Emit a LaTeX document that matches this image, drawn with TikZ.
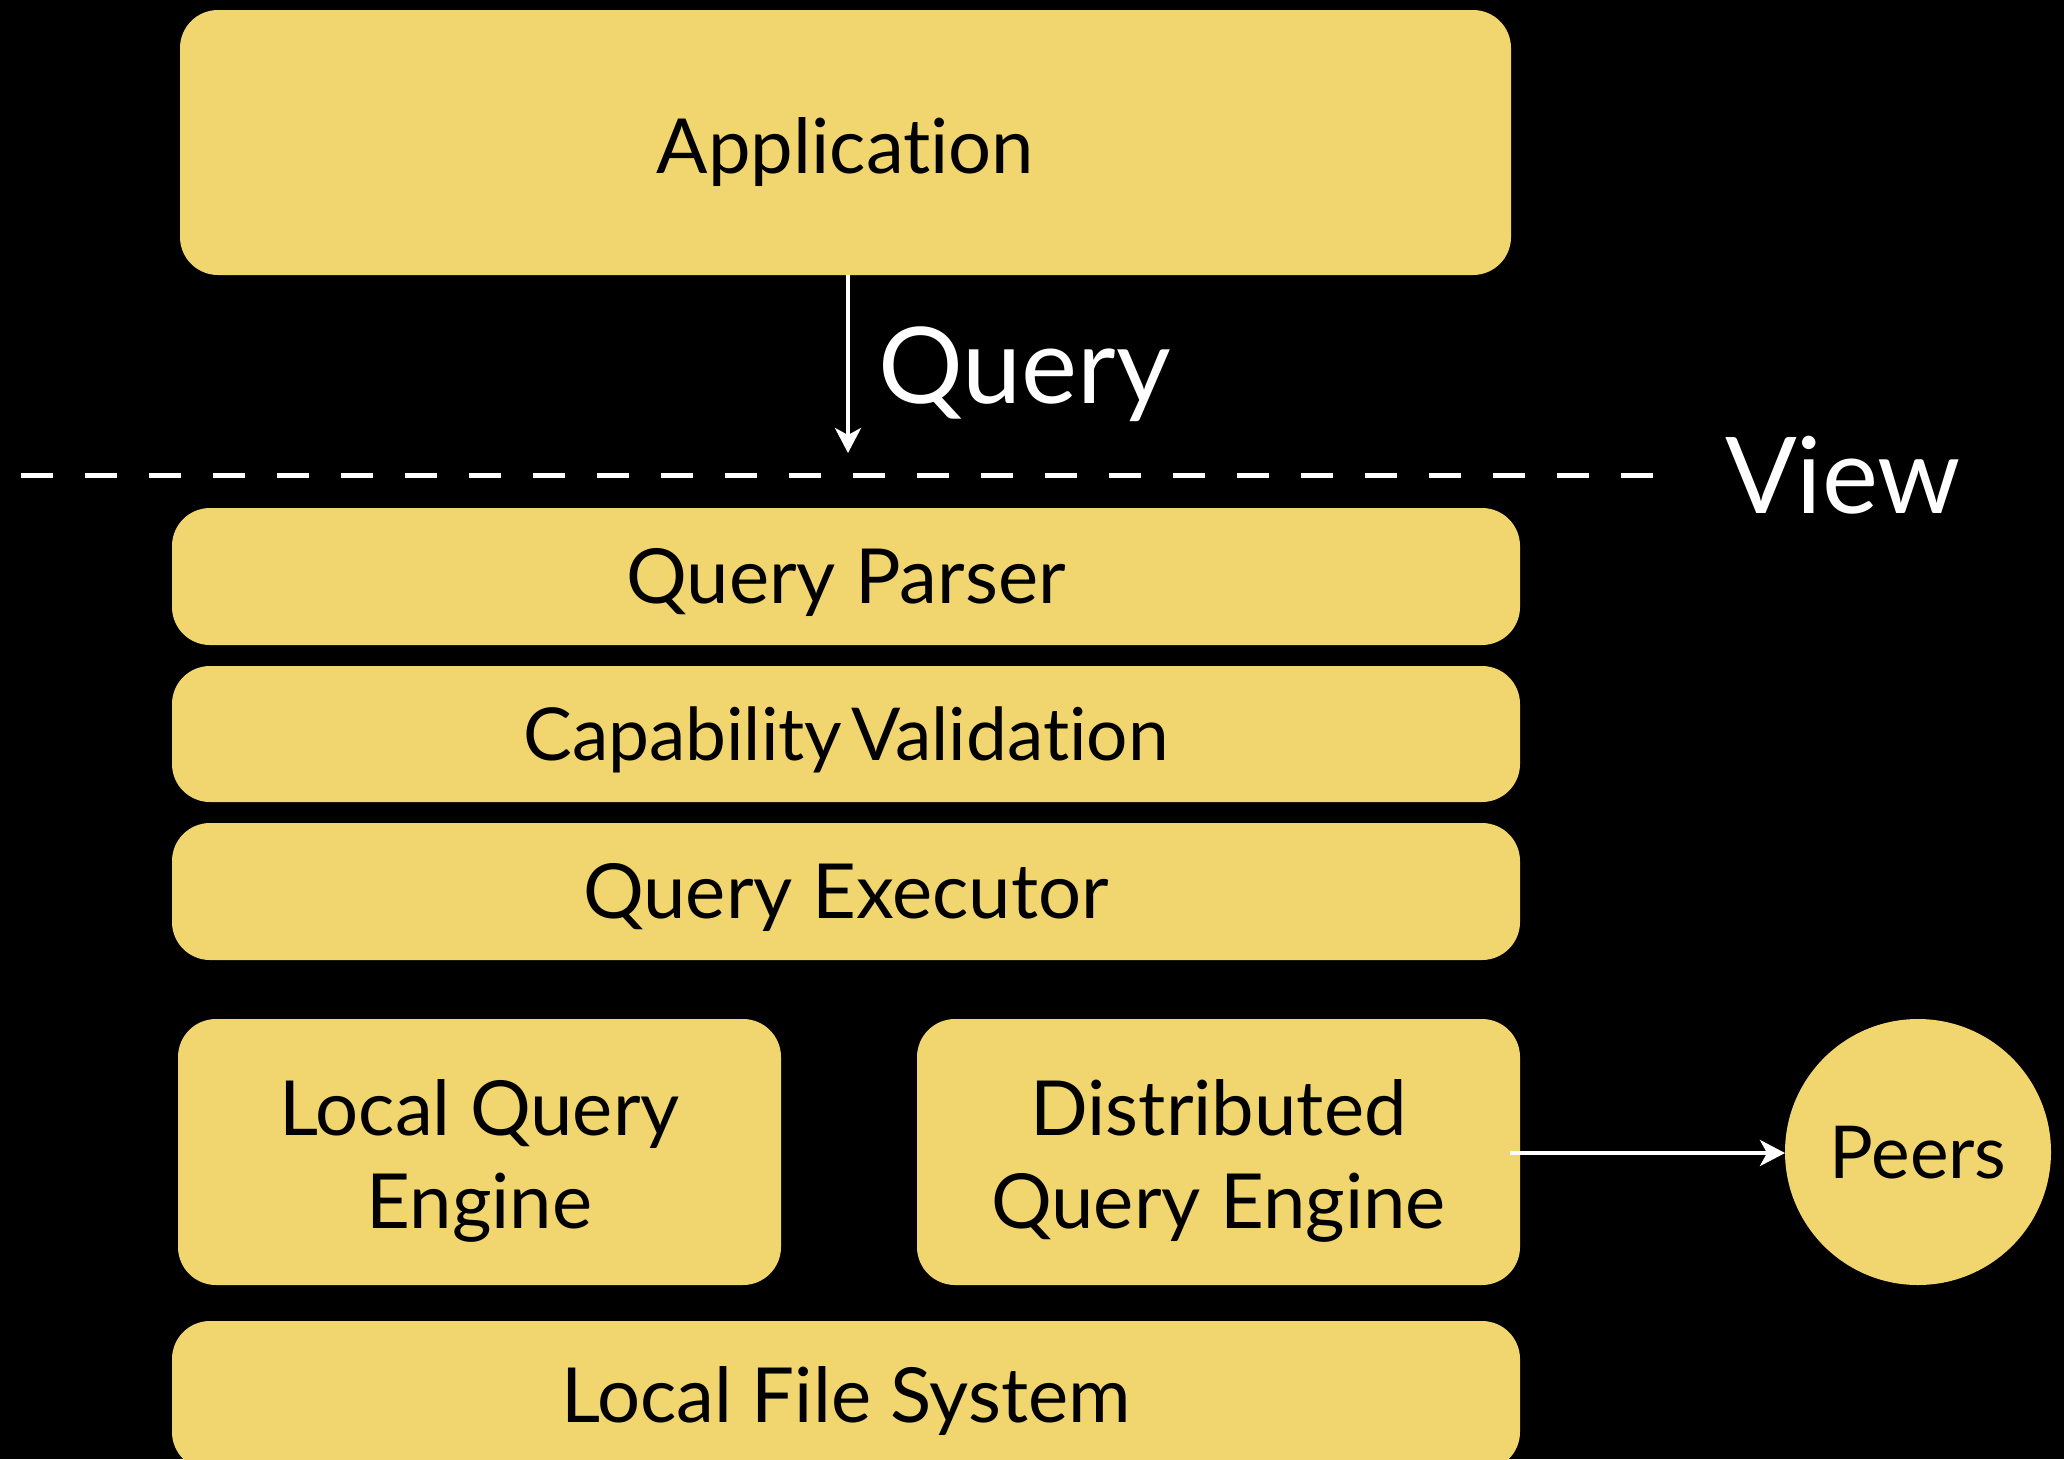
\documentclass[tikz,border=0pt]{standalone}
\usepackage{fontspec}
\setmainfont{Lato}[Ligatures=CommonOff]
\usetikzlibrary{arrows.meta}
\definecolor{boxyellow}{RGB}{241,213,110}
\tikzset{
  layer/.style={fill=boxyellow, draw=none, rounded corners=38pt},
  lbl/.style={anchor=base, text=black, font=\fontsize{76}{93}\selectfont, align=center, inner sep=0pt},
  biglbl/.style={anchor=base west, text=white, font=\fontsize{106}{120}\selectfont, inner sep=0pt},
  flow/.style={draw=white, line width=4pt, -{Stealth[length=25pt,width=26pt,inset=7pt]}},
}
\begin{document}
\begin{tikzpicture}[x=1pt,y=-1pt]
\useasboundingbox (0,0) rectangle (2064,1459);
\fill[black] (0,0) rectangle (2064,1459);

% boxes
\path[layer] (180,10) rectangle (1511,275);
\path[layer] (172,508) rectangle (1520,645);
\path[layer] (172,666) rectangle (1520,802);
\path[layer] (172,823) rectangle (1520,960);
\path[layer] (178,1019) rectangle (781,1285);
\path[layer] (917,1019) rectangle (1520,1285);
\path[layer] (172,1321) rectangle (1520,1470);
\fill[boxyellow] (1918,1152) circle (133);

% labels
\node[lbl] (tapp) at (845.5,173) {Application};
\node[lbl] (tparser) at (846,603) {Query Parser};
\node[lbl, font=\fontsize{73}{90}\selectfont] (tcap) at (846,760) {Capability\hspace{-10pt} Validation};
\node[lbl] (texec) at (846,918) {Query Executor};
\node[lbl] (tlqe) at (479.5,1135) {Local Query};
\node[lbl] (tlqe2) at (479.5,1228) {Engine};
\node[lbl] (tdqe) at (1218.5,1135) {Distributed};
\node[lbl] (tdqe2) at (1218.5,1228) {Query Engine};
\node[lbl] (tlfs) at (846,1422) {Local File System};
\node[lbl, font=\fontsize{73}{80}\selectfont] (tpeers) at (1918,1178) {Peers};

\node[biglbl] (tquery) at (878,403) {Query};
\node[biglbl] (tview) at (1725,513) {View};

% connectors
\coordinate (appbot) at (848,275);
\coordinate (viewline) at (848,453);
\draw[flow] (appbot) -- (viewline);
\coordinate (dqeright) at (1510,1153);
\coordinate (peersleft) at (1785,1153);
\draw[flow] (dqeright) -- (peersleft);

% dashed view line
\coordinate (dashA) at (21,475);
\coordinate (dashB) at (1653,475);
\draw[white, line width=5pt, dash pattern=on 32pt off 32pt] (dashA) -- (dashB);
\end{tikzpicture}
\end{document}
